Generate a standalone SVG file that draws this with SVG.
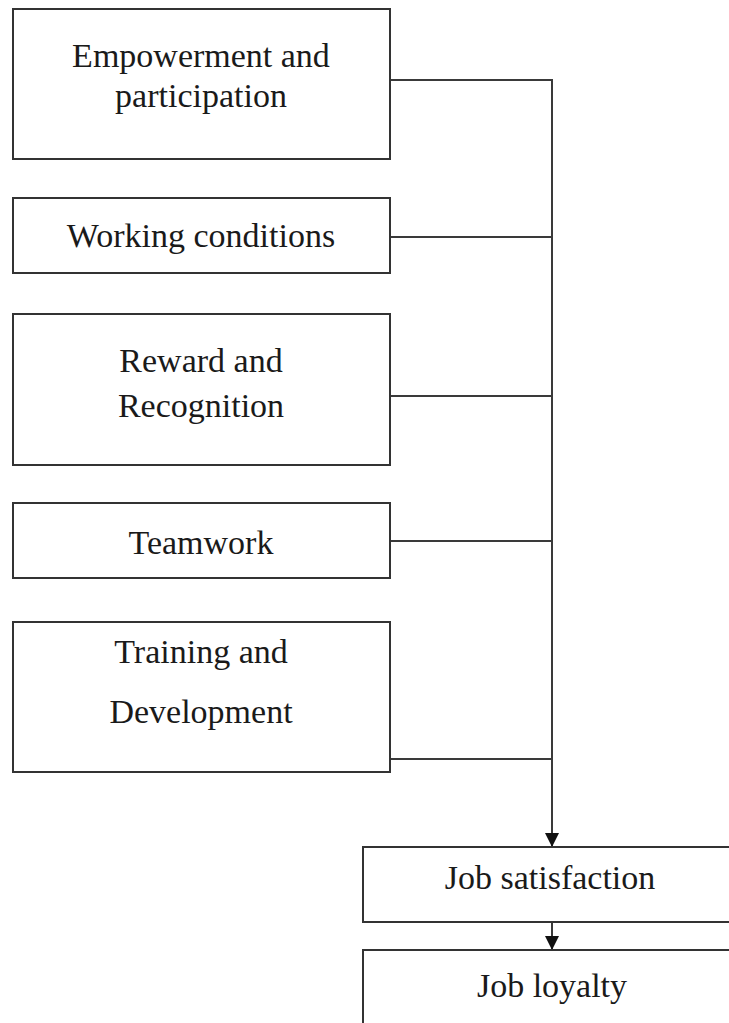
<svg xmlns="http://www.w3.org/2000/svg" width="729" height="1023" viewBox="0 0 729 1023">
  <style>
    .box { fill: #ffffff; stroke: #333333; stroke-width: 2; }
    .lbl { font-family: "Liberation Serif", "Times New Roman", serif; font-size: 34px; fill: #1a1a1a; text-anchor: middle; }
    .wire { fill: none; stroke: #3a3a3a; stroke-width: 2; }
  </style>
  <defs>
    <marker id="arrow" viewBox="0 0 14 14" refX="14" refY="7" markerWidth="14" markerHeight="14" markerUnits="userSpaceOnUse" orient="auto">
      <path d="M0,0 L14,7 L0,14 Z" fill="#111111"/>
    </marker>
  </defs>
  <rect width="729" height="1023" fill="#ffffff"/>

  <!-- connectors -->
  <g id="connectors">
    <path class="wire" d="M390,80 H552"/>
    <path class="wire" d="M390,237 H552"/>
    <path class="wire" d="M390,396 H552"/>
    <path class="wire" d="M390,541 H552"/>
    <path class="wire" d="M390,759 H552"/>
    <path class="wire" d="M552,79 V847" marker-end="url(#arrow)"/>
    <path class="wire" d="M552,922 V950" marker-end="url(#arrow)"/>
  </g>

  <g id="empowerment">
    <rect class="box" x="13" y="9" width="377" height="150"/>
    <text class="lbl" x="201" y="67">Empowerment and</text>
    <text class="lbl" x="201" y="107">participation</text>
  </g>

  <g id="working-conditions">
    <rect class="box" x="13" y="198" width="377" height="75"/>
    <text class="lbl" x="201" y="247">Working conditions</text>
  </g>

  <g id="reward">
    <rect class="box" x="13" y="314" width="377" height="151"/>
    <text class="lbl" x="201" y="372">Reward and</text>
    <text class="lbl" x="201" y="417">Recognition</text>
  </g>

  <g id="teamwork">
    <rect class="box" x="13" y="503" width="377" height="75"/>
    <text class="lbl" x="201" y="554">Teamwork</text>
  </g>

  <g id="training">
    <rect class="box" x="13" y="622" width="377" height="150"/>
    <text class="lbl" x="201" y="663">Training and</text>
    <text class="lbl" x="201" y="723">Development</text>
  </g>

  <g id="job-satisfaction">
    <rect class="box" x="363" y="847" width="400" height="75"/>
    <text class="lbl" x="550" y="889">Job satisfaction</text>
  </g>

  <g id="job-loyalty">
    <rect class="box" x="363" y="950" width="400" height="120"/>
    <text class="lbl" x="552" y="997">Job loyalty</text>
  </g>
</svg>
